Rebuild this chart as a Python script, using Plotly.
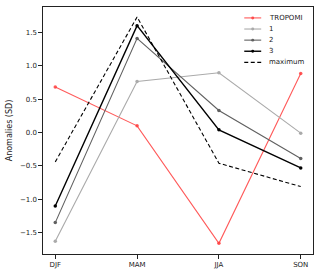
import plotly.graph_objects as go

seasons = ["DJF", "MAM", "JJA", "SON"]
tropomi = [0.68, 0.10, -1.66, 0.885]
s1 = [-1.63, 0.765, 0.895, -0.01]
s2 = [-1.35, 1.41, 0.33, -0.39]
s3 = [-1.10, 1.60, 0.04, -0.53]
maximum = [-0.44, 1.73, -0.46, -0.81]

W, H = 320, 275
ML, MR, MT, MB = 43, 6, 7, 19
PW, PH = W - ML - MR, H - MT - MB

def px(xp):
    return (xp - ML) / PW

def py(yp):
    return (H - MB - yp) / PH

styles = [
    ("TROPOMI", tropomi, "rgba(255,60,60,0.85)", 1.1, "solid", True),
    ("1", s1, "#aaaaaa", 1.1, "solid", True),
    ("2", s2, "#606060", 1.1, "solid", True),
    ("3", s3, "#000000", 1.4, "solid", True),
    ("maximum", maximum, "#000000", 1.1, "4px,2.5px", False),
]

fig = go.Figure()
x = list(range(len(seasons)))
shapes, annots = [], []
for i, (name, vals, col, lw, dash, mk) in enumerate(styles):
    fig.add_trace(go.Scatter(x=x, y=vals, name=name,
                             mode="lines+markers" if mk else "lines",
                             line=dict(color=col, width=lw, dash=dash),
                             marker=dict(size=3.5, color=col), showlegend=False,
                             hoverinfo="skip"))
    yy = 18 + i * 11.2
    shapes.append(dict(type="line", xref="paper", yref="paper",
                       x0=px(245), x1=px(262), y0=py(yy), y1=py(yy),
                       line=dict(color=col, width=lw, dash=dash)))
    if mk:
        shapes.append(dict(type="circle", xref="paper", yref="paper",
                           x0=px(252), x1=px(255), y0=py(yy - 1.5), y1=py(yy + 1.5),
                           fillcolor=col, line=dict(width=0)))
    annots.append(dict(text=name, xref="paper", yref="paper", x=px(268), y=py(yy),
                       xanchor="left", yanchor="middle", showarrow=False,
                       font=dict(size=7, color="#222222")))

fig.update_layout(
    width=W, height=H,
    margin=dict(l=ML, r=MR, t=MT, b=MB),
    plot_bgcolor="white", paper_bgcolor="white",
    font=dict(family="DejaVu Sans", size=7, color="#222222"),
    showlegend=False,
    shapes=shapes, annotations=annots,
    xaxis=dict(range=[-0.15, 3.15], tickmode="array", tickvals=x, ticktext=seasons,
               showgrid=False, zeroline=False, showline=True, linecolor="#222222",
               linewidth=1.3, mirror=True, ticks="outside", ticklen=3.5,
               tickwidth=1.1, tickcolor="#222222",
               tickfont=dict(color="#222222")),
    yaxis=dict(range=[-1.82, 1.88], tickvals=[-1.5, -1.0, -0.5, 0.0, 0.5, 1.0, 1.5],
               tickformat=".1f", showgrid=False, zeroline=False, showline=True,
               linecolor="#222222", linewidth=1.3, mirror=True, ticks="outside",
               ticklen=3.5, tickwidth=1.1, tickcolor="#222222",
               title=dict(text="Anomalies (SD)", font=dict(size=8), standoff=6)),
)
fig.write_html("out.html", config={"displayModeBar": False},
               post_script="document.body.style.margin='0';")
